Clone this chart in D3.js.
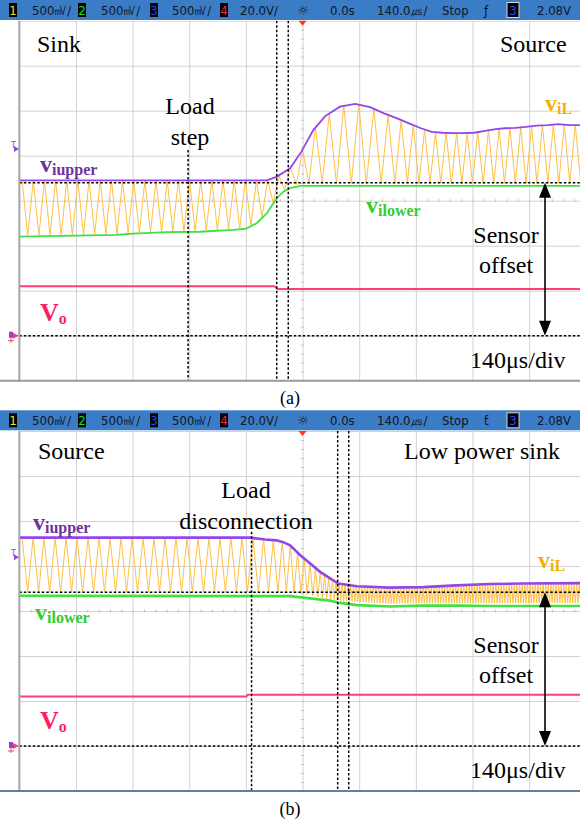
<!DOCTYPE html>
<html>
<head>
<meta charset="utf-8">
<script src="https://cdn.jsdelivr.net/npm/d3@7"></script>
<style>
body { margin: 0; background: #fff; }
svg { display: block; }
</style>
</head>
<body>
<svg id="chart" width="580" height="824"></svg>
<script>
// values are in scope divisions: t = 0..10 (140us/div), v = -4..4 from screen centre

// panel (a) load step
const upperA = [[0,0.45],[4.37,0.45],[4.54,0.53],[4.78,0.72],[4.98,1.09],[5.19,1.57],[5.40,1.88],[5.66,2.09],[5.93,2.15],[6.19,2.08],[6.44,1.94],[6.67,1.83],[6.88,1.72],[7.09,1.61],[7.28,1.53],[7.47,1.51],[7.66,1.50],[7.84,1.50],[8.03,1.51],[8.22,1.55],[8.41,1.59],[8.57,1.61],[8.76,1.62],[8.94,1.64],[9.13,1.67],[9.33,1.68],[9.51,1.70],[9.71,1.68],[10,1.68]];
const lowerA = [[0,-0.80],[1.72,-0.76],[2.01,-0.73],[2.60,-0.70],[3.19,-0.69],[3.78,-0.65],[4.01,-0.62],[4.19,-0.50],[4.37,-0.28],[4.54,0.05],[4.66,0.20],[4.78,0.28],[4.96,0.33],[10,0.33]];
const ilLowA = [[0,-0.78],[1.72,-0.74],[2.60,-0.69],[3.19,-0.67],[3.78,-0.63],[4.01,-0.60],[4.19,-0.48],[4.37,-0.26],[4.54,0.07],[4.66,0.22],[4.78,0.32],[4.96,0.38],[10,0.39]];
const periodA = [[0,0.197],[4.4,0.197],[4.8,0.21],[5.3,0.245],[5.7,0.265],[6.2,0.265],[6.45,0.24],[6.7,0.22],[6.9,0.205],[7.1,0.195],[7.5,0.185],[8.5,0.19],[10,0.195]];
const voA = [[0,-1.90],[4.50,-1.90],[4.56,-1.96],[10,-1.96]];
const offsetLevelA = 0.40;
const markersA = { load: 2.98, cursors: [4.544, 4.748] };

// panel (b) load disconnection
const upperB = [[0,1.63],[4.07,1.63],[4.34,1.59],[4.54,1.57],[4.66,1.53],[4.78,1.46],[4.96,1.24],[5.13,1.06],[5.31,0.87],[5.48,0.73],[5.63,0.61],[5.96,0.55],[6.54,0.52],[7.13,0.53],[7.72,0.57],[8.31,0.60],[8.90,0.61],[10,0.62]];
const lowerB = [[0,0.34],[4.78,0.33],[5.13,0.28],[5.48,0.23],[5.66,0.18],[5.96,0.13],[6.54,0.10],[7.13,0.12],[7.72,0.12],[8.31,0.11],[10,0.11]];
const ilLowB = [[0,0.42],[4.8,0.42],[5.1,0.36],[5.4,0.28],[5.7,0.22],[6.5,0.17],[10,0.18]];
const periodB = [[0,0.194],[4.1,0.194],[4.5,0.16],[4.9,0.12],[5.3,0.08],[5.7,0.05],[10,0.045]];
const voB = [[0,-1.90],[4.01,-1.90],[4.03,-1.86],[10,-1.86]];
const offsetLevelB = 0.415;
const markersB = { load: 4.10, cursors: [5.62, 5.815] };

const groundLevel = -3;
const arrowTime = 9.28;

// scope status bar
const chanScale = ["500\u33B7/", "500\u33B7/", "500\u33B7/", "20.0V/"];
const chanColors = ["#f0e020", "#20e020", "#2040ff", "#ff2030"];
const timeItems = ["0.0s", "140.0\u33B2/", "Stop"];
const trigLevel = "2.08V";

const C = {
  purple: "#9446e6", purpleText: "#7030a0",
  green: "#3fe23f", greenText: "#33cc33",
  orange: "#ffbf45", orangeText: "#f2b200",
  red: "#ff3f6f", redText: "#ff1f63",
  grid: "#d2d2d2", bar: "#3b7cc6"
};

const svg = d3.select("#chart");
const serif = "'Liberation Serif', 'Times New Roman', serif";
const x = d3.scaleLinear().domain([0, 10]).range([19.3, 585.8]);

function pw(arr) {
  return d3.scaleLinear().domain(arr.map(d => d[0])).range(arr.map(d => d[1])).clamp(true);
}

// triangle carrier bouncing between the two envelopes
function ripple(up, lo, per, phase) {
  const fu = pw(up), fl = pw(lo), fp = pw(per);
  const pts = [];
  let t = phase, hi = true;
  while (t <= 10.2) {
    pts.push([t, hi ? fu(t) : fl(t)]);
    t += fp(t) / 2;
    hi = !hi;
  }
  return pts;
}

function drawHeader(g, trigGlyph) {
  g.append("rect").attr("x", 0).attr("y", 0).attr("width", 580).attr("height", 20).attr("fill", C.bar);
  const font = "'Liberation Sans Narrow', 'DejaVu Sans Condensed', sans-serif";
  const boxX = [9, 78, 150, 220], txtX = [32, 101, 172, 240];
  chanScale.forEach((s, i) => {
    g.append("rect").attr("x", boxX[i]).attr("y", 3).attr("width", 8).attr("height", 14).attr("fill", "#000");
    g.append("text").attr("x", boxX[i] + 4).attr("y", 15).attr("text-anchor", "middle")
      .attr("font-family", font).attr("font-size", 13).attr("fill", chanColors[i]).text(i + 1);
    g.append("text").attr("x", txtX[i]).attr("y", 15).attr("font-family", font)
      .attr("font-size", 13).attr("fill", "#0d1626").text(s);
  });
  g.append("text").attr("x", 303).attr("y", 15).attr("text-anchor", "middle")
    .attr("font-family", "DejaVu Sans").attr("font-size", 13).attr("fill", "#0d1626").text("\u263C");
  const tx = [330, 377, 442];
  timeItems.forEach((s, i) => {
    g.append("text").attr("x", tx[i]).attr("y", 15).attr("font-family", font)
      .attr("font-size", 13).attr("fill", "#0d1626").text(s);
  });
  g.append("text").attr("x", 484).attr("y", 15).attr("font-family", "DejaVu Sans")
    .attr("font-size", 12).attr("fill", "#0d1626").text(trigGlyph);
  g.append("rect").attr("x", 507).attr("y", 2.5).attr("width", 12).attr("height", 15)
    .attr("fill", "#000").attr("stroke", "#d8d8d8").attr("stroke-width", 1);
  g.append("text").attr("x", 513).attr("y", 15).attr("text-anchor", "middle").attr("font-family", font)
    .attr("font-size", 13).attr("fill", "#2a4dff").text("3");
  g.append("text").attr("x", 537).attr("y", 15).attr("font-family", font)
    .attr("font-size", 13).attr("fill", "#0d1626").text(trigLevel);
}

function drawPanel(top, d) {
  const g = svg.append("g").attr("transform", `translate(0,${top})`);
  const y = d3.scaleLinear().domain([-4, 4]).range([380.7, 20.7]);
  const id = "clip" + Math.round(top);
  g.append("clipPath").attr("id", id).append("rect")
    .attr("x", x(0)).attr("y", y(4)).attr("width", 580 - x(0)).attr("height", y(-4) - y(4));
  const plot = g.append("g").attr("clip-path", `url(#${id})`);

  // grid via axes
  plot.append("g").attr("transform", `translate(0,${y(-4)})`)
    .call(d3.axisBottom(x).ticks(10).tickSize(-(y(-4) - y(4))).tickFormat(""))
    .call(a => a.select(".domain").remove())
    .call(a => a.selectAll("line").attr("stroke", C.grid));
  plot.append("g").attr("transform", `translate(${x(0)},0)`)
    .call(d3.axisLeft(y).ticks(8).tickSize(-(x(10) - x(0))).tickFormat(""))
    .call(a => a.select(".domain").remove())
    .call(a => a.selectAll("line").attr("stroke", C.grid));
  // minor ticks on centre lines
  plot.append("g").attr("transform", `translate(0,${y(0)})`)
    .call(d3.axisBottom(x).tickValues(d3.range(0, 10.01, 0.2)).tickSize(3).tickFormat(""))
    .call(a => a.select(".domain").remove())
    .call(a => a.selectAll("line").attr("stroke", "#c4c4c4").attr("transform", "translate(0,-1.5)"));
  plot.append("g").attr("transform", `translate(${x(5)},0)`)
    .call(d3.axisLeft(y).tickValues(d3.range(-4, 4.01, 0.2)).tickSize(3).tickFormat(""))
    .call(a => a.select(".domain").remove())
    .call(a => a.selectAll("line").attr("stroke", "#c4c4c4").attr("transform", "translate(1.5,0)"));

  const line = d3.line().x(p => x(p[0])).y(p => y(p[1]));

  // traces
  plot.append("path").datum(ripple(d.upper, d.ilLow, d.period, 0.05))
    .attr("d", line).attr("fill", "none").attr("stroke", C.orange).attr("stroke-width", 1).attr("stroke-linejoin", "round");
  plot.append("path").datum(d.vo).attr("d", line).attr("fill", "none").attr("stroke", C.red).attr("stroke-width", 2);
  plot.append("path").datum(d.lower).attr("d", line).attr("fill", "none").attr("stroke", C.green).attr("stroke-width", d.noisy ? 2.6 : 1.8);
  plot.append("path").datum(d.upper).attr("d", line).attr("fill", "none").attr("stroke", C.purple).attr("stroke-width", d.noisy ? 2.6 : 1.8);

  // dashed reference lines
  const dash = sel => sel.attr("stroke", "#000").attr("stroke-width", 1.5).attr("stroke-dasharray", "2.5,2");
  plot.append("line").attr("x1", x(0)).attr("x2", 580).attr("y1", y(d.offset)).attr("y2", y(d.offset)).call(dash);
  plot.append("line").attr("x1", x(0)).attr("x2", 580).attr("y1", y(groundLevel)).attr("y2", y(groundLevel)).call(dash);
  plot.append("line").attr("x1", x(d.markers.load)).attr("x2", x(d.markers.load))
    .attr("y1", d.loadTop).attr("y2", y(-4)).call(dash);
  d.markers.cursors.forEach(t => {
    plot.append("line").attr("x1", x(t)).attr("x2", x(t)).attr("y1", y(4)).attr("y2", y(-4)).call(dash);
  });

  // frame
  g.append("line").attr("x1", x(0)).attr("x2", x(0)).attr("y1", y(4)).attr("y2", y(-4) + 1)
    .attr("stroke", "#a8a8a8").attr("stroke-width", 2);
  g.append("line").attr("x1", 0).attr("x2", 580).attr("y1", y(-4)).attr("y2", y(-4))
    .attr("stroke", d.bottomColor).attr("stroke-width", 2);

  // sensor offset arrow
  const ax = x(arrowTime), y1 = y(d.offset), y2 = y(groundLevel);
  g.append("line").attr("x1", ax).attr("x2", ax).attr("y1", y1 + 12).attr("y2", y2 - 12)
    .attr("stroke", "#000").attr("stroke-width", 1.6);
  g.append("path").attr("d", `M${ax},${y1}L${ax - 6},${y1 + 15}L${ax + 6},${y1 + 15}Z`).attr("fill", "#000");
  g.append("path").attr("d", `M${ax},${y2}L${ax - 6},${y2 - 15}L${ax + 6},${y2 - 15}Z`).attr("fill", "#000");

  // trigger marker top and side markers
  g.append("path").attr("d", `M${x(5) - 4},${y(4)}L${x(5) + 4},${y(4)}L${x(5)},${y(4) + 5}Z`).attr("fill", "#ff3a10");
  const ty = d.trigY;
  g.append("text").attr("x", 11).attr("y", ty).attr("font-family", "DejaVu Sans").attr("font-size", 8)
    .attr("fill", C.purple).text("T");
  g.append("path").attr("d", `M14,${ty - 2}L19,${ty + 1}L14,${ty + 4}Z`).attr("fill", C.purple);
  const gy = y(groundLevel);
  g.append("rect").attr("x", 9).attr("y", gy - 4).attr("width", 4).attr("height", 6).attr("fill", "#a040c0");
  g.append("path").attr("d", `M13,${gy - 3}L19,${gy}L13,${gy + 3}Z`).attr("fill", C.red);
  g.append("line").attr("x1", 11).attr("x2", 11).attr("y1", gy + 2).attr("y2", gy + 7).attr("stroke", C.red);
  g.append("line").attr("x1", 8).attr("x2", 14).attr("y1", gy + 5).attr("y2", gy + 5).attr("stroke", C.red);

  drawHeader(g, d.trigGlyph);

  // annotations
  const txt = (s, px, py, anchor) => g.append("text").attr("x", px).attr("y", py)
    .attr("font-family", serif).attr("font-size", 24).attr("fill", "#000")
    .attr("text-anchor", anchor || "start").text(s);
  d.texts.forEach(t => txt(t[0], t[1], t[2], t[3]));

  const sub = (main, s, px, py, color, size) => {
    const t = g.append("text").attr("x", px).attr("y", py).attr("font-family", serif)
      .attr("font-weight", "bold").attr("fill", color);
    t.append("tspan").attr("font-size", size || 24).text(main);
    t.append("tspan").attr("font-size", 16).attr("dy", 3).text(s);
  };
  sub("v", "iupper", d.lab.up[0], d.lab.up[1], C.purpleText);
  sub("v", "ilower", d.lab.lo[0], d.lab.lo[1], C.greenText);
  sub("v", "iL", d.lab.il[0], d.lab.il[1], C.orangeText);
  sub("V", "o", d.lab.vo[0], d.lab.vo[1], C.redText, 26);
}

drawPanel(0, {
  upper: upperA, lower: lowerA, ilLow: ilLowA, period: periodA, vo: voA,
  offset: offsetLevelA, markers: markersA, loadTop: 150, noisy: false,
  bottomColor: "#9a9a9a", trigY: 148, trigGlyph: "\u0192",
  texts: [["Sink", 37, 52], ["Source", 500, 52], ["Load", 190, 114, "middle"], ["step", 190, 145, "middle"],
          ["Sensor", 506, 243, "middle"], ["offset", 506, 273, "middle"], ["140\u03BCs/div", 470, 368]],
  lab: { up: [40, 172], lo: [366, 213], il: [545, 111], vo: [40, 321] }
});

drawPanel(410.3, {
  upper: upperB, lower: lowerB, ilLow: ilLowB, period: periodB, vo: voB,
  offset: offsetLevelB, markers: markersB, loadTop: 121.4, noisy: true,
  bottomColor: "#5d80aa", trigY: 146, trigGlyph: "\u01AD",
  texts: [["Source", 38, 49], ["Low power sink", 404, 49], ["Load", 246, 88, "middle"], ["disconnection", 246, 119, "middle"],
          ["Sensor", 506, 243, "middle"], ["offset", 506, 273, "middle"], ["140\u03BCs/div", 470, 368]],
  lab: { up: [33, 120], lo: [35, 210], il: [538, 158], vo: [40, 319] }
});

svg.append("text").attr("x", 290).attr("y", 404).attr("text-anchor", "middle")
  .attr("font-family", serif).attr("font-size", 18).text("(a)");
svg.append("text").attr("x", 290).attr("y", 815).attr("text-anchor", "middle")
  .attr("font-family", serif).attr("font-size", 18).text("(b)");
</script>
</body>
</html>
